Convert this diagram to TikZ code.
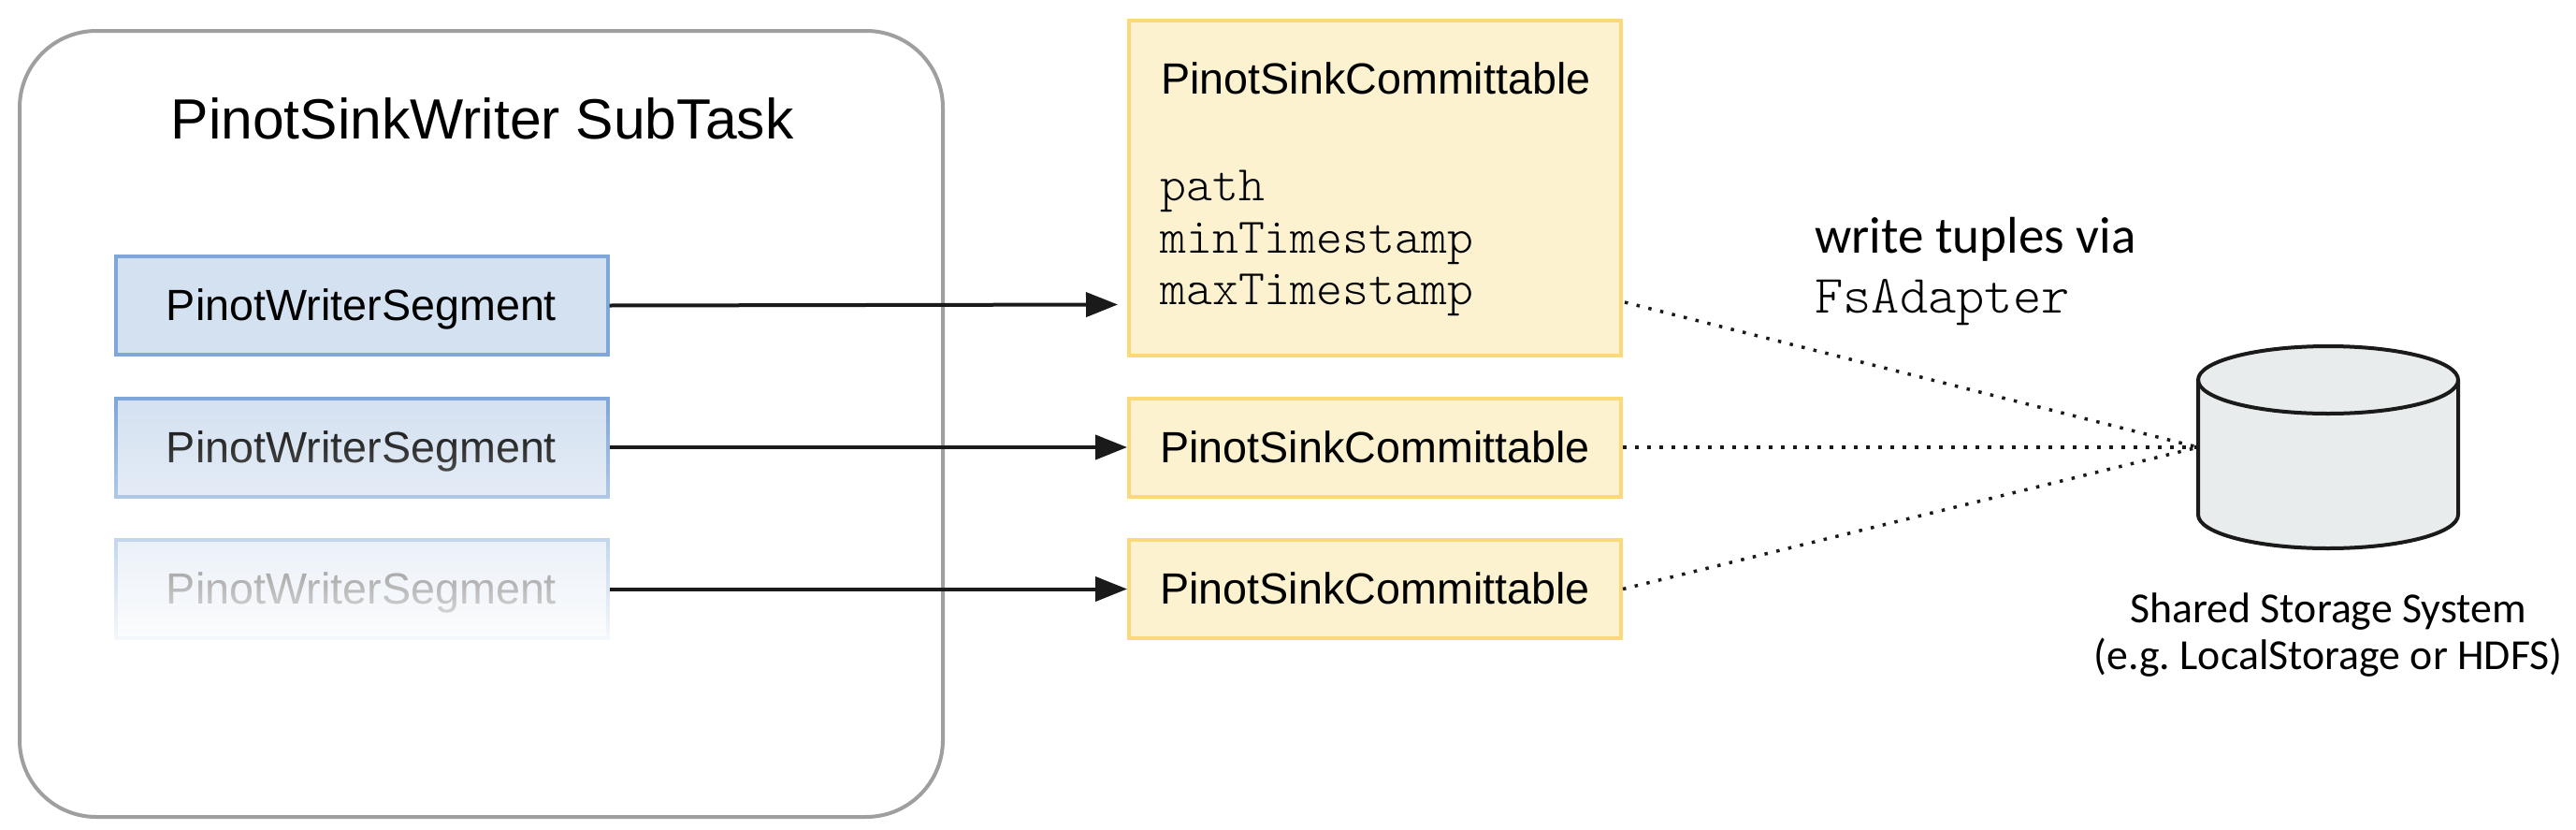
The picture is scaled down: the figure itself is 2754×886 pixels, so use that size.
\documentclass[tikz,border=0pt]{standalone}
\usepackage{fontspec}
\setmainfont{Liberation Sans}
\newfontfamily\lato{Carlito}
\setmonofont{Latin Modern Mono Light}
\usetikzlibrary{arrows.meta,fadings}
\tikzfading[name=segfade,top color=transparent!100,bottom color=transparent!5]
\tikzset{
  x=1pt,y=-1pt,
  outer/.style={draw=outergray,line width=4pt,rounded corners=82pt},
  seg/.style={draw=segblue,fill=segfill,line width=4pt,minimum width=526pt,minimum height=105pt,inner sep=0pt,text height=36pt,text depth=4pt,font=\fontsize{46.7}{58}\selectfont,text=black},
  sink/.style={draw=sinkyel,fill=sinkfill,line width=4pt,minimum width=526pt,minimum height=105pt,inner sep=0pt,text height=36pt,text depth=4pt,font=\fontsize{46.7}{58}\selectfont,text=black},
  flow/.style={draw=linedark,line width=4pt,-{Triangle[length=34pt,width=26pt]}},
  dots/.style={draw=linedark,line width=3.5pt,dash pattern=on 3.5pt off 9.5pt},
  mono/.style={inner sep=0pt,anchor=base west,font=\fontsize{53.2}{60}\selectfont\ttfamily,text=black},
  sans/.style={inner sep=0pt,anchor=base west,font=\fontsize{46.7}{58}\selectfont,text=black},
  lbl/.style={inner sep=0pt,anchor=base,font=\lato\frenchspacing\fontsize{45.8}{54}\selectfont,text=black},
}
\definecolor{outergray}{HTML}{9F9F9F}
\definecolor{segblue}{HTML}{7EA6D8}
\definecolor{segfill}{HTML}{D4E1F1}
\definecolor{sinkyel}{HTML}{FBD97A}
\definecolor{sinkfill}{HTML}{FDF2D0}
\definecolor{linedark}{HTML}{1A1A1A}
\definecolor{cylfill}{HTML}{E8ECEC}
\begin{document}
\begin{tikzpicture}
\useasboundingbox (0,0) rectangle (2754,886);
\fill[white] (0,0) rectangle (2754,886);
\draw[outer] (21,33) rectangle (1008,873);
\node[inner sep=0pt,anchor=base,font=\fontsize{60.6}{70}\selectfont] (title) at (515.5,148) {PinotSinkWriter SubTask};
% segments
\node[seg] (s1) at (386.5,326.5) {PinotWriterSegment};
\node[seg] (s2) at (386.5,478) {PinotWriterSegment};
\node[seg] (s3) at (386.5,629.5) {PinotWriterSegment};
\fill[white,path fading=segfade] (118,425) rectangle (655,690);
% committables
\node[sink,minimum height=358pt,text height=0pt,text depth=0pt] (c1) at (1470,201) {};
\node[sink] (c2) at (1470,478) {PinotSinkCommittable};
\node[sink] (c3) at (1470,629.5) {PinotSinkCommittable};
\node[sans] (c1t) at (1241,100.5) {PinotSinkCommittable};
\node[mono] (c1a) at (1240,214) {path};
\node[mono] (c1b) at (1240,270) {minTimestamp};
\node[mono] (c1c) at (1240,325) {maxTimestamp};
% connectors
\coordinate (c1in) at (1195,325.5);
\coordinate (c1out) at (1737,323);
\draw[flow] (s1.east) -- (c1in);
\draw[flow] (s2.east) -- (c2.west);
\draw[flow] (s3.east) -- (c3.west);
% storage
\draw[fill=cylfill,draw=linedark,line width=4pt]
  (2350,406) -- (2350,550) arc[start angle=180,end angle=360,x radius=139pt,y radius=36pt] -- (2628,406)
  arc[start angle=0,end angle=180,x radius=139pt,y radius=36pt] -- cycle;
\draw[draw=linedark,line width=4pt] (2350,406) arc[start angle=180,end angle=360,x radius=139pt,y radius=36pt];
\coordinate (store) at (2350,478);
\draw[dots] (c1out) -- (store);
\draw[dots] (c2.east) -- (store);
\draw[dots] (c3.east) -- (store);
% labels
\node[inner sep=0pt,anchor=base west,font=\lato\fontsize{55.1}{66}\selectfont] (w1) at (1940,270) {write tuples via};
\node[inner sep=0pt,anchor=base west,font=\fontsize{57.7}{66}\selectfont\ttfamily] (w2) at (1940,334) {FsAdapter};
\node[lbl] (l1) at (2489,665) {Shared Storage System};
\node[lbl] (l2) at (2489,715) {(e.g. LocalStorage or HDFS)};
\end{tikzpicture}
\end{document}
